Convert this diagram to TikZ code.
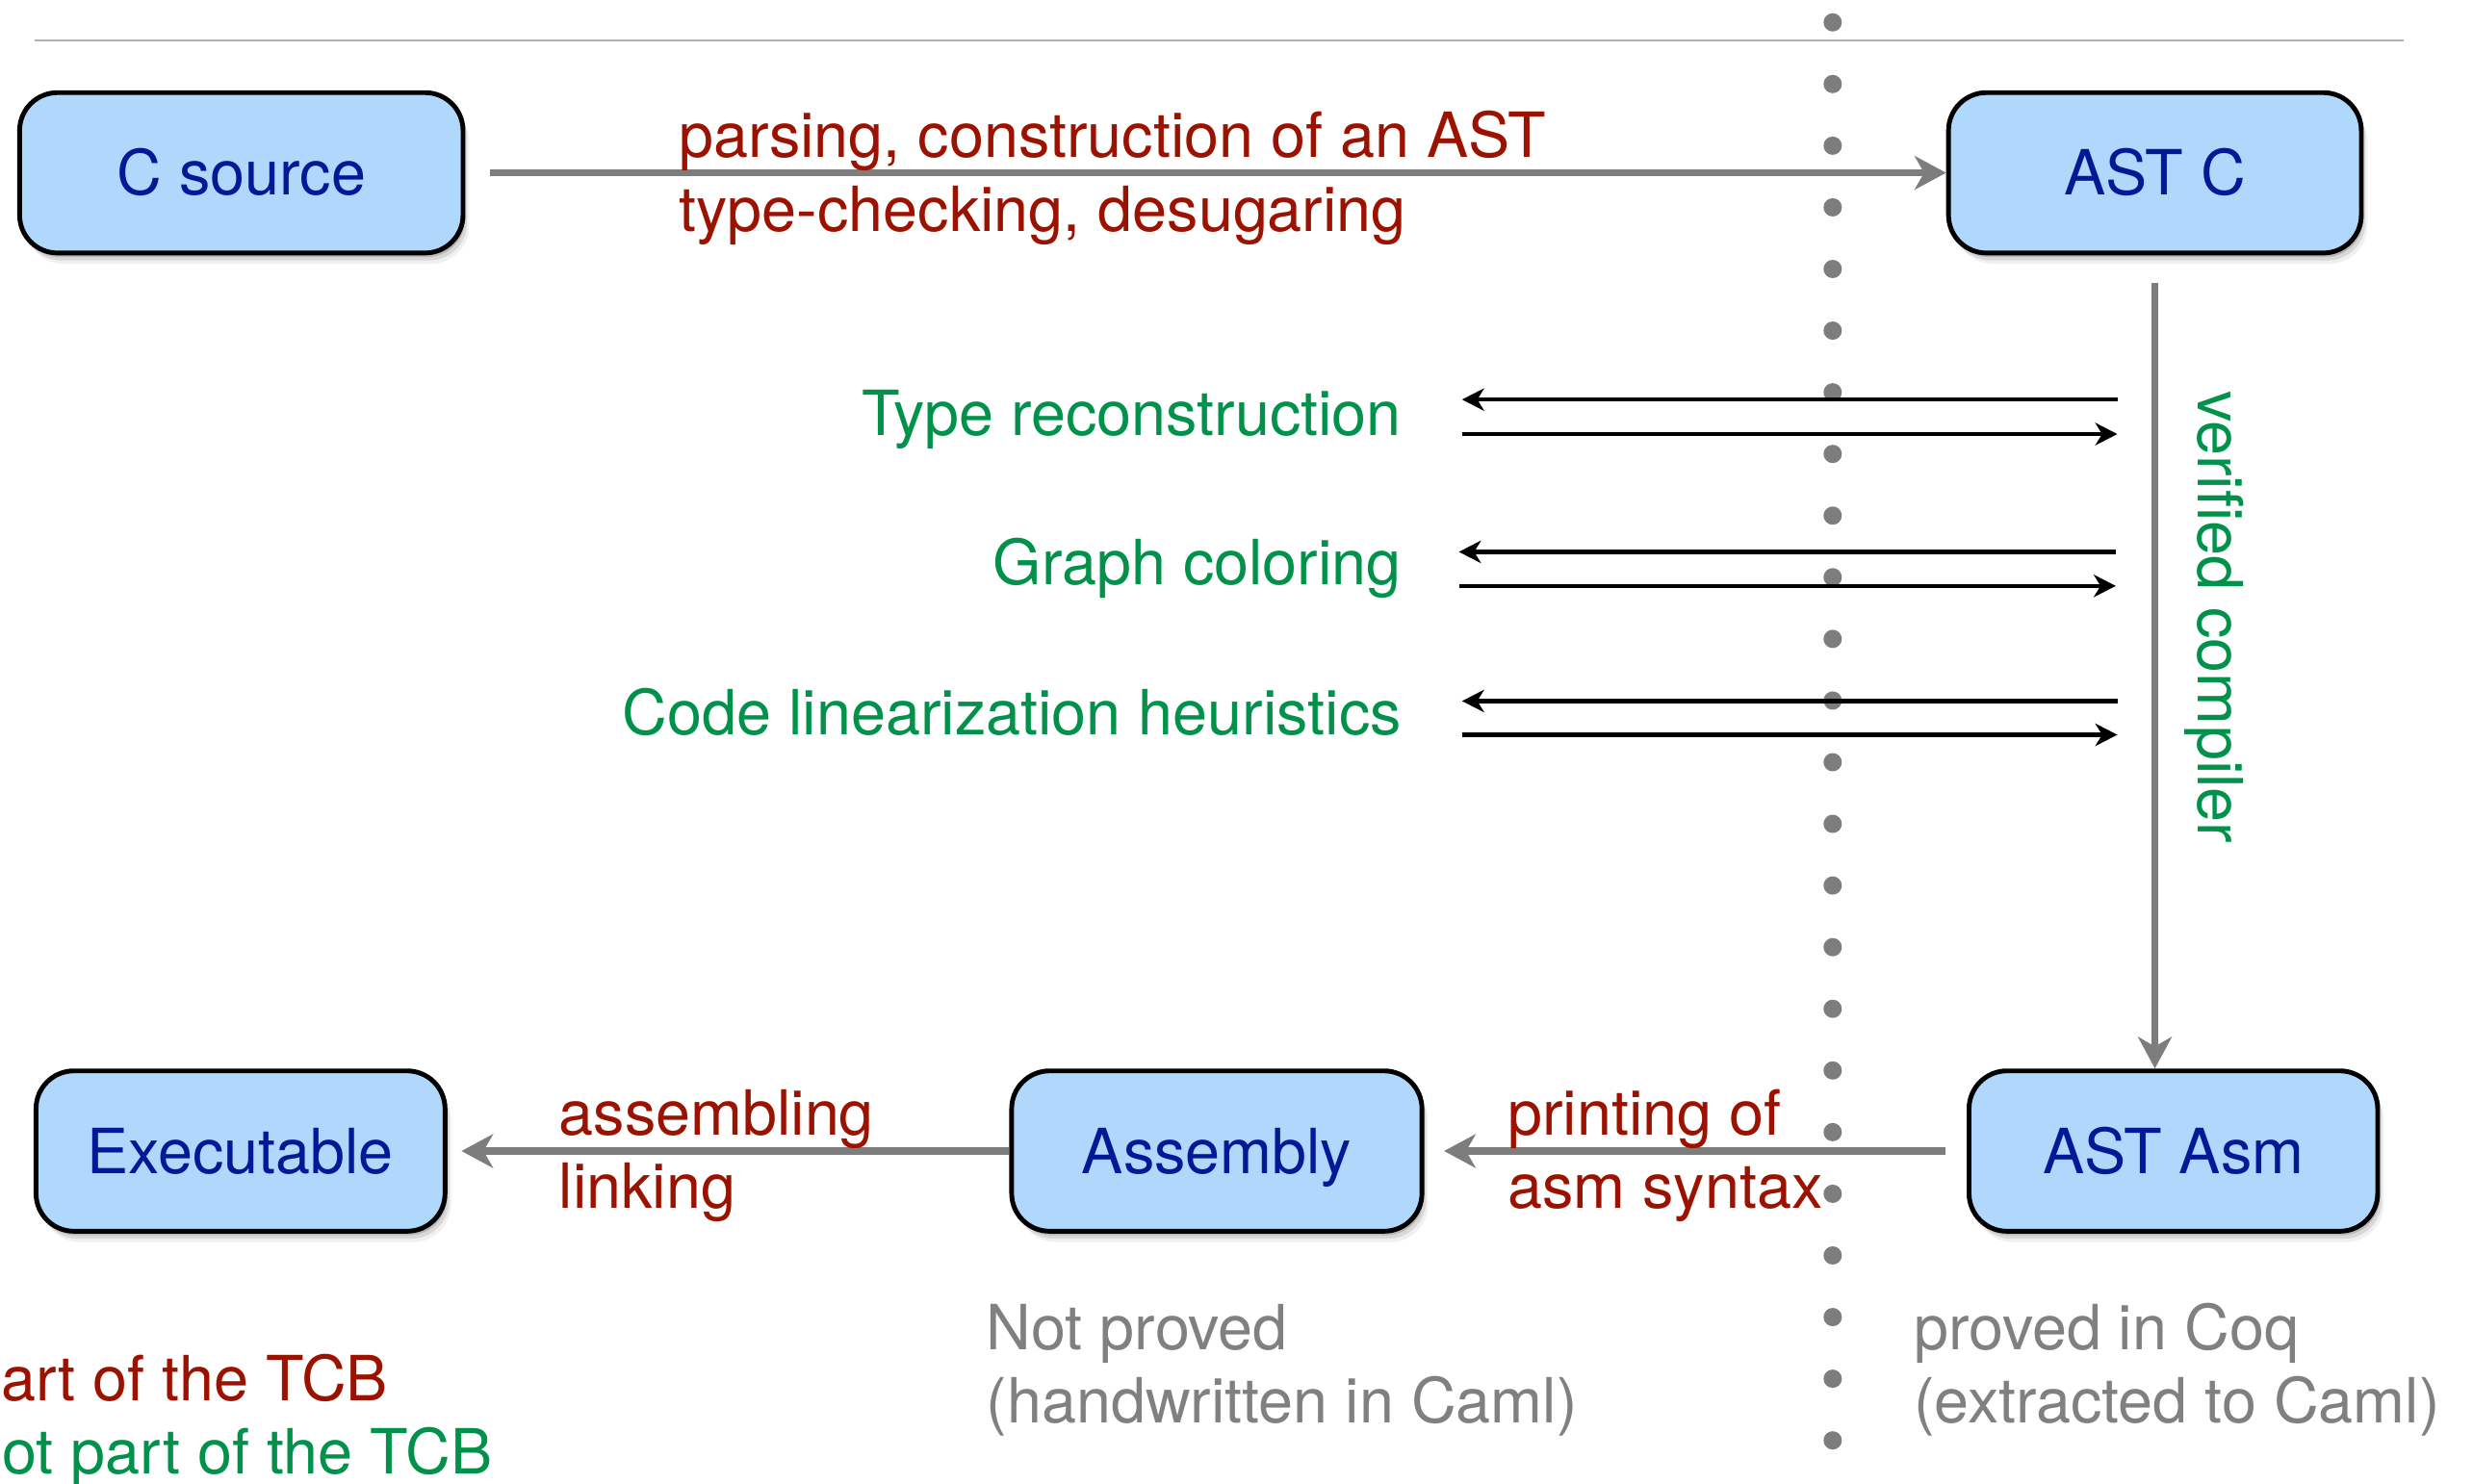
\documentclass[tikz,border=0pt]{standalone}
\usepackage{fontspec}
\setmainfont{TeX Gyre Heros}
\usetikzlibrary{arrows.meta,shadows}

\definecolor{boxfill}{RGB}{176,215,252}
\definecolor{boxtext}{RGB}{0,25,150}
\definecolor{tcbred}{RGB}{155,18,0}
\definecolor{ntcbgreen}{RGB}{0,145,75}
\definecolor{notegray}{RGB}{128,128,128}
\definecolor{flowgray}{RGB}{125,125,125}
\definecolor{rulegray}{RGB}{178,178,178}

\begin{document}
\begin{tikzpicture}[x=0.01638cm, y=-0.01638cm,
  every node/.style={font=\fontsize{18.4}{22}\selectfont},
  softshadow/.style={
    drop shadow={shadow xshift=0.6pt, shadow yshift=-1.2pt, opacity=0.15, fill=black},
    drop shadow={shadow xshift=1.2pt, shadow yshift=-2.2pt, opacity=0.10, fill=black},
    drop shadow={shadow xshift=1.8pt, shadow yshift=-3.2pt, opacity=0.06, fill=black}},
  stage/.style={draw=black, line width=1.4pt, fill=boxfill, rounded corners=0.393cm,
    text=boxtext, inner sep=0pt, minimum height=1.665cm,
    text height=13.2pt, text depth=0pt, softshadow},
  redtxt/.style={text=tcbred, anchor=base west, inner sep=0pt},
  greentxt/.style={text=ntcbgreen, anchor=base east, inner sep=0pt},
  graytxt/.style={text=notegray, anchor=base west, inner sep=0pt},
  flow/.style={draw=flowgray, line width=2.2pt,
    -{Stealth[length=9.3pt, width=9.9pt, inset=2.8pt]}},
  oracle/.style={draw=black, line width=1.25pt,
    -{Stealth[length=6.5pt, width=6.6pt, inset=2pt]}}
]
\useasboundingbox (0,0) rectangle (1568,941);

% separator rule at the top
\draw[rulegray, line width=0.8pt] (22,25.6) -- (1524,25.6);

% dotted border between unproved and proved parts
\foreach \k in {0,...,23}
  \fill[flowgray] (1162,{14.2+39.1*\k}) circle (0.095cm);

% compilation stages
\node[stage, minimum width=4.603cm] (csrc)   at (153,109.6)   {C source};
\node[stage, minimum width=4.285cm] (astc)   at (1366.3,109.6) {AST C};
\node[stage, minimum width=4.246cm] (exe)    at (152.5,730)   {Executable};
\node[stage, minimum width=4.259cm] (asmb)   at (771.5,730)   {Assembly};
\node[stage, minimum width=4.242cm] (astasm) at (1378,730)    {AST Asm};

% main pipeline
\draw[flow, shorten <=0.254cm] (csrc.east) -- (astc.west);
\draw[flow, shorten <=0.285cm] (astc.south) -- (astc.south |- astasm.north);
\draw[flow, shorten <=0.221cm, shorten >=0.205cm] (astasm.west) -- (asmb.west -| asmb.east);
\draw[flow, shorten >=0.146cm] (asmb.west) -- (exe.east);

% pipeline labels
\node[redtxt] (parse1) at (430,100)   {parsing, construction of an AST};
\node[redtxt] (parse2) at (430,147)   {type-checking, desugaring};
\node[redtxt] (asm1)   at (354,720)   {assembling};
\node[redtxt] (asm2)   at (354,766.5) {linking};
\node[redtxt] (prt1)   at (955.5,720)   {printing of};
\node[redtxt] (prt2)   at (955.5,766.5) {asm syntax};

\node[text=ntcbgreen, rotate=-90, anchor=base west, inner sep=0pt] (vc)
  at (1394,247.5) {verified compiler};

% untrusted helpers called by the verified compiler
\node[greentxt] (tr) at (889,276) {Type reconstruction};
\node[greentxt] (gc) at (889,371) {Graph coloring};
\node[greentxt] (cl) at (889,466) {Code linearization heuristics};

\coordinate (tr-a) at (1342.5,253.4); \coordinate (tr-b) at (927,253.4);
\coordinate (tr-c) at (927,275.3);    \coordinate (tr-d) at (1342.5,275.3);
\coordinate (gc-a) at (1341.5,350);   \coordinate (gc-b) at (925,350);
\coordinate (gc-c) at (925,371.6);    \coordinate (gc-d) at (1341.5,371.6);
\coordinate (cl-a) at (1342.5,444.6); \coordinate (cl-b) at (927,444.6);
\coordinate (cl-c) at (927,466);      \coordinate (cl-d) at (1342.5,466);

\draw[oracle] (tr-a) -- (tr-b);
\draw[oracle] (tr-c) -- (tr-d);
\draw[oracle] (gc-a) -- (gc-b);
\draw[oracle] (gc-c) -- (gc-d);
\draw[oracle] (cl-a) -- (cl-b);
\draw[oracle] (cl-c) -- (cl-d);

% notes under each side
\node[graytxt] (np1) at (625,856)   {Not proved};
\node[graytxt] (np2) at (625,902.5) {(handwritten in Caml)};
\node[graytxt] (pc1) at (1213,856)   {proved in Coq};
\node[graytxt] (pc2) at (1213,902.5) {(extracted to Caml)};

% legend
\node[text=tcbred, anchor=base west, inner sep=0pt] (tcb) at (0.5,888.5) {art of the TCB};
\node[text=ntcbgreen, anchor=base west, inner sep=0pt] (ntcb) at (1,935) {ot part of the TCB};
\end{tikzpicture}
\end{document}
